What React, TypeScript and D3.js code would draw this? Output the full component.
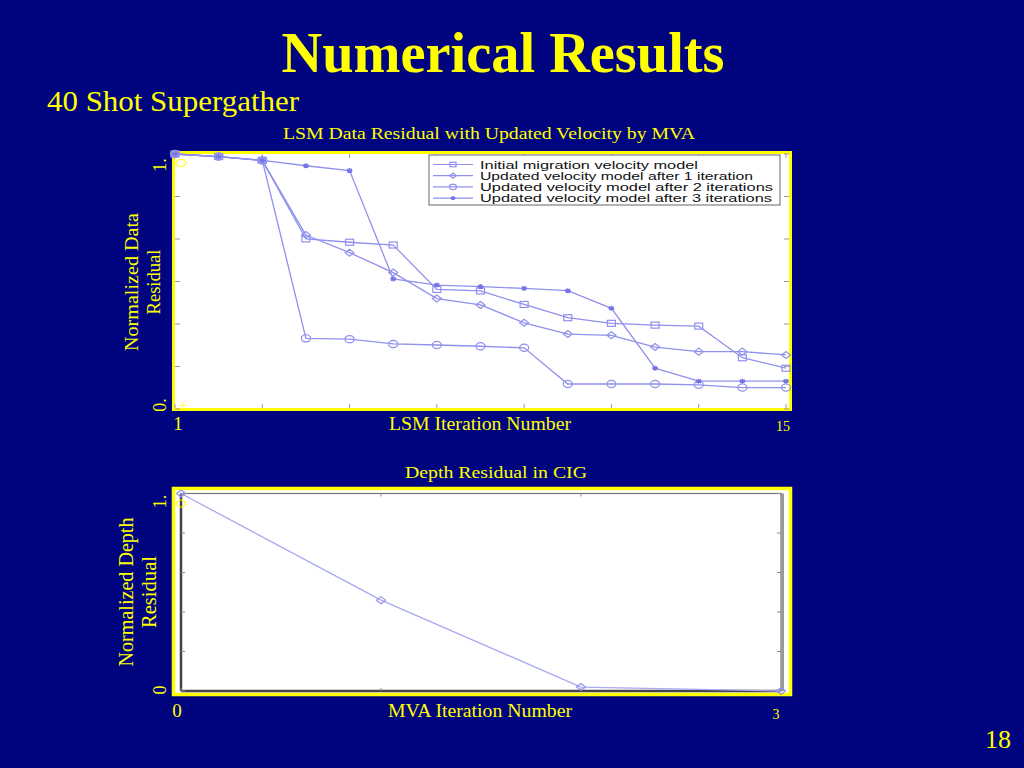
import React from "react";
import * as d3 from "d3";

// Данные верхнего графика (LSM)
const lsmIterations = [1, 2, 3, 4, 5, 6, 7, 8, 9, 10, 11, 12, 13, 14, 15];
const initialModel = [1.0, 0.99, 0.975, 0.667, 0.654, 0.643, 0.469, 0.463, 0.41, 0.358, 0.336, 0.329, 0.325, 0.201, 0.16];
const afterOne = [1.0, 0.99, 0.975, 0.682, 0.613, 0.535, 0.433, 0.408, 0.338, 0.294, 0.289, 0.243, 0.225, 0.225, 0.212];
const afterTwo = [1.0, 0.99, 0.975, 0.277, 0.274, 0.255, 0.251, 0.246, 0.24, 0.098, 0.098, 0.098, 0.095, 0.084, 0.084];
const afterThree = [1.0, 0.99, 0.975, 0.954, 0.935, 0.51, 0.486, 0.48, 0.473, 0.464, 0.395, 0.16, 0.109, 0.109, 0.109];
const seriesNames = [
	"Initial migration velocity model",
	"Updated velocity model after 1 iteration",
	"Updated velocity model after 2 iterations",
	"Updated velocity model after 3 iterations",
];
const lsmXTicks = [1, 3, 5, 7, 9, 11, 13, 15];
const lsmYTicks = [0, 0.1667, 0.3333, 0.5, 0.6667, 0.8333, 1];

// Данные нижнего графика (MVA)
const mvaIterations = [0, 1, 2, 3];
const depthResidual = [1.0, 0.46, 0.02, 0.0];
const mvaYTicks = [0, 0.2, 0.4, 0.6, 0.8, 1];

const BG = "#01047f";
const YELLOW = "#ffff00";
const LINE = "#9090ee";
const SERIF = "'Liberation Serif', 'Times New Roman', serif";
const SANS = "'Liberation Sans', Arial, sans-serif";

type MarkerKind = "square" | "diamond" | "circle" | "star";
const markerKinds: MarkerKind[] = ["square", "diamond", "circle", "star"];

function Marker({ kind, x, y, s = 1 }: { kind: MarkerKind; x: number; y: number; s?: number }) {
	const common = { fill: "none", stroke: LINE, strokeWidth: 1.2 };
	if (kind === "square") return <rect x={x - 4 * s} y={y - 3 * s} width={8 * s} height={6 * s} {...common} />;
	if (kind === "diamond")
		return <path d={`M${x - 4.5 * s},${y}L${x},${y - 3.5 * s}L${x + 4.5 * s},${y}L${x},${y + 3.5 * s}Z`} {...common} />;
	if (kind === "circle") return <ellipse cx={x} cy={y} rx={4.5 * s} ry={3.6 * s} {...common} />;
	return (
		<path
			d={`M${x - 3 * s},${y}H${x + 3 * s}M${x},${y - 2.5 * s}V${y + 2.5 * s}M${x - 2.2 * s},${y - 1.8 * s}L${x + 2.2 * s},${y + 1.8 * s}M${x - 2.2 * s},${y + 1.8 * s}L${x + 2.2 * s},${y - 1.8 * s}`}
			stroke="#7474e6"
			strokeWidth={1.3}
		/>
	);
}

export default function App() {
	// верхний график
	const xTop = d3.scaleLinear().domain([1, 15]).range([175, 786]);
	const yTop = d3.scaleLinear().domain([0, 1]).range([409, 154]);
	const topLine = d3
		.line<number>()
		.x((_, i) => xTop(lsmIterations[i]))
		.y((d) => yTop(d));
	const allSeries = [initialModel, afterOne, afterTwo, afterThree];

	// нижний график
	const xBot = d3.scaleLinear().domain([0, 3]).range([181, 781]);
	const yBot = d3.scaleLinear().domain([0, 1]).range([691, 493.5]);
	const botLine = d3
		.line<number>()
		.x((_, i) => xBot(mvaIterations[i]))
		.y((d) => yBot(d));

	const legendX = 429;
	const legendY = 155;
	const legendWidths = [218, 273, 293, 292];

	return (
		<svg width={1024} height={768} style={{ position: "fixed", left: 0, top: 0 }}>
			<rect width={1024} height={768} fill={BG} />

			<text x={503} y={72} textAnchor="middle" fill={YELLOW} fontFamily={SERIF} fontWeight="bold" fontSize={58} textLength={443} lengthAdjust="spacingAndGlyphs">
				Numerical Results
			</text>
			<text x={47} y={111} fill={YELLOW} fontFamily={SERIF} fontSize={29} textLength={252} lengthAdjust="spacingAndGlyphs">
				40 Shot Supergather
			</text>

			{/* верхний график */}
			<text x={489} y={139} textAnchor="middle" fill={YELLOW} fontFamily={SERIF} fontSize={17} textLength={412} lengthAdjust="spacingAndGlyphs">
				LSM Data Residual with Updated Velocity by MVA
			</text>
			<rect x={173.5} y={152.5} width={617} height={257} fill="#fff" stroke={YELLOW} strokeWidth={3} />
			<g stroke="#999" strokeWidth={1}>
				{lsmXTicks.map((t) => (
					<g key={t}>
						<line x1={xTop(t)} x2={xTop(t)} y1={154} y2={158} />
						<line x1={xTop(t)} x2={xTop(t)} y1={408} y2={404} />
					</g>
				))}
				{lsmYTicks.map((t) => (
					<g key={t}>
						<line x1={175} x2={180} y1={yTop(t)} y2={yTop(t)} />
						<line x1={789} x2={784} y1={yTop(t)} y2={yTop(t)} />
					</g>
				))}
			</g>
			{allSeries.map((s, si) => (
				<g key={si}>
					<path d={topLine(s) || ""} fill="none" stroke={LINE} strokeWidth={1.3} />
					{s.map((v, i) => (
						<Marker key={i} kind={markerKinds[si]} x={xTop(lsmIterations[i])} y={yTop(v)} />
					))}
				</g>
			))}
			{/* легенда */}
			<rect x={legendX} y={legendY} width={351} height={50} fill="#fff" stroke="#666" strokeWidth={1} />
			{seriesNames.map((name, i) => {
				const ry = legendY + 9.5 + i * 11.2;
				return (
					<g key={name}>
						<line x1={legendX + 4} x2={legendX + 44} y1={ry} y2={ry} stroke={LINE} strokeWidth={1.2} />
						<Marker kind={markerKinds[i]} x={legendX + 24} y={ry} s={0.75} />
						<text x={legendX + 51} y={ry + 4} fontFamily={SANS} fontSize={10.5} fill="#111" textLength={legendWidths[i]} lengthAdjust="spacingAndGlyphs">
							{name}
						</text>
					</g>
				);
			})}
			{/* жёлтые остатки подписей */}
			<ellipse cx={xTop(1) + 6} cy={yTop(1) + 9} rx={5} ry={3.5} fill="none" stroke={YELLOW} strokeWidth={1.2} />
			<text x={xTop(1) + 8} y={yTop(0) + 1} textAnchor="middle" fill={YELLOW} fontFamily={SERIF} fontSize={14}>
				+
			</text>

			<g fill={YELLOW} fontFamily={SERIF}>
				<text transform="translate(138,282) rotate(-90)" textAnchor="middle" fontSize={19} textLength={138} lengthAdjust="spacingAndGlyphs">
					Normalized Data
				</text>
				<text transform="translate(160,282) rotate(-90)" textAnchor="middle" fontSize={19} textLength={65} lengthAdjust="spacingAndGlyphs">
					Residual
				</text>
				<text transform={`translate(166,${yTop(1) + 11}) rotate(-90)`} textAnchor="middle" fontSize={18}>
					1.
				</text>
				<text transform={`translate(166,${yTop(0) - 4}) rotate(-90)`} textAnchor="middle" fontSize={18}>
					0.
				</text>
				<text x={xTop(1) + 3} y={430} textAnchor="middle" fontSize={19}>
					1
				</text>
				<text x={xTop(15) - 3} y={431} textAnchor="middle" fontSize={14}>
					15
				</text>
				<text x={480} y={430} textAnchor="middle" fontSize={18} textLength={182} lengthAdjust="spacingAndGlyphs">
					LSM Iteration Number
				</text>
			</g>

			{/* нижний график */}
			<text x={496} y={478} textAnchor="middle" fill={YELLOW} fontFamily={SERIF} fontSize={17} textLength={182} lengthAdjust="spacingAndGlyphs">
				Depth Residual in CIG
			</text>
			<rect x={173.5} y={488.5} width={617} height={206} fill="#fff" stroke={YELLOW} strokeWidth={3.5} />
			<rect x={xBot(0)} y={yBot(1)} width={xBot(3) - xBot(0)} height={yBot(0) - yBot(1)} fill="none" stroke="#777" strokeWidth={1.2} />
			<line x1={xBot(0)} x2={xBot(0)} y1={yBot(1)} y2={yBot(0)} stroke="#444" strokeWidth={2.5} />
			<line x1={xBot(0)} x2={xBot(3)} y1={yBot(0)} y2={yBot(0)} stroke="#444" strokeWidth={2.5} />
			<line x1={xBot(3) + 1.5} x2={xBot(3) + 1.5} y1={yBot(1)} y2={yBot(0)} stroke="#999" strokeWidth={3} />
			<g stroke="#888" strokeWidth={1}>
				{mvaIterations.map((t) => (
					<g key={t}>
						<line x1={xBot(t)} x2={xBot(t)} y1={yBot(1)} y2={yBot(1) + 3} />
						<line x1={xBot(t)} x2={xBot(t)} y1={yBot(0)} y2={yBot(0) - 3} />
					</g>
				))}
				{mvaYTicks.map((t) => (
					<g key={t}>
						<line x1={xBot(0)} x2={xBot(0) + 4} y1={yBot(t)} y2={yBot(t)} />
						<line x1={xBot(3)} x2={xBot(3) - 4} y1={yBot(t)} y2={yBot(t)} />
					</g>
				))}
			</g>
			<path d={botLine(depthResidual) || ""} fill="none" stroke="#a8a8f4" strokeWidth={1.3} />
			{depthResidual.map((v, i) => (
				<Marker key={i} kind="diamond" x={xBot(mvaIterations[i])} y={yBot(v)} />
			))}
			<ellipse cx={xBot(0)} cy={yBot(1) + 10} rx={4.5} ry={3.5} fill="none" stroke={YELLOW} strokeWidth={1.2} />

			<g fill={YELLOW} fontFamily={SERIF}>
				<text transform="translate(133,592) rotate(-90)" textAnchor="middle" fontSize={20} textLength={149} lengthAdjust="spacingAndGlyphs">
					Normalized Depth
				</text>
				<text transform="translate(156,592) rotate(-90)" textAnchor="middle" fontSize={20} textLength={72} lengthAdjust="spacingAndGlyphs">
					Residual
				</text>
				<text transform={`translate(166,${yBot(1) + 8}) rotate(-90)`} textAnchor="middle" fontSize={18}>
					1.
				</text>
				<text transform={`translate(166,${yBot(0) - 1}) rotate(-90)`} textAnchor="middle" fontSize={18}>
					0
				</text>
				<text x={xBot(0) - 4} y={717} textAnchor="middle" fontSize={19}>
					0
				</text>
				<text x={xBot(3) - 5} y={719} textAnchor="middle" fontSize={14}>
					3
				</text>
				<text x={480} y={717} textAnchor="middle" fontSize={18} textLength={184} lengthAdjust="spacingAndGlyphs">
					MVA Iteration Number
				</text>
			</g>

			<text x={998} y={748} textAnchor="middle" fill={YELLOW} fontFamily={SERIF} fontSize={26}>
				18
			</text>
		</svg>
	);
}
